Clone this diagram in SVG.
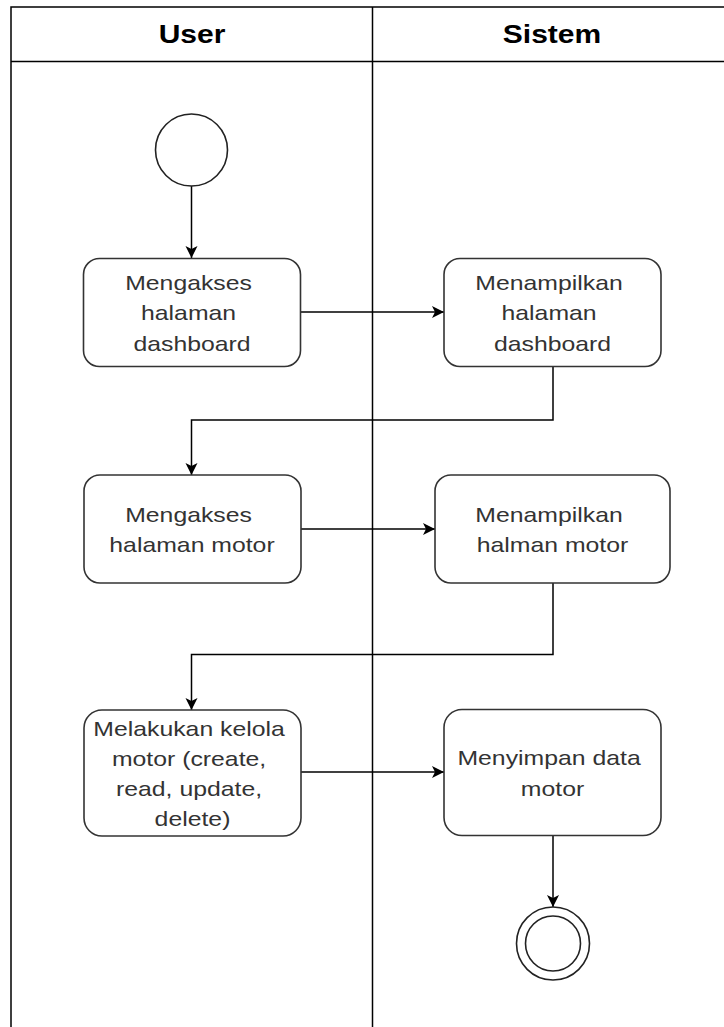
<svg xmlns="http://www.w3.org/2000/svg" width="724" height="1027" viewBox="0 0 724 1027">
  <style>
    .lane { fill: none; stroke: #000; stroke-width: 1.5; }
    .head { font-family: "Liberation Sans", Arial, sans-serif; font-size: 25px; font-weight: bold; fill: #000; text-anchor: middle; }
    .box { fill: #fff; stroke: #333; stroke-width: 1.6; }
    .lbl { font-family: "Liberation Sans", Arial, sans-serif; font-size: 20px; fill: #333; text-anchor: middle; }
    .edge { fill: none; stroke: #000; stroke-width: 1.5; }
    .circ { fill: #fff; stroke: #222; stroke-width: 1.6; }
  </style>
  <defs>
    <marker id="arrow" markerUnits="userSpaceOnUse" markerWidth="13" markerHeight="13" refX="12" refY="6" orient="auto">
      <path d="M0,0 L12,6 L0,12 L3,6 Z" fill="#000"/>
    </marker>
  </defs>

  <rect width="724" height="1027" fill="#fff"/>

  <!-- swimlanes -->
  <g id="lanes">
    <path class="lane" d="M11,1027 V7 H724"/>
    <path class="lane" d="M11,61.5 H724"/>
    <path class="lane" d="M372.5,7 V1027"/>
    <text class="head" transform="translate(192,0) scale(1.2,1)" x="0" y="43">User</text>
    <text class="head" transform="translate(552,0) scale(1.2,1)" x="0" y="43">Sistem</text>
  </g>

  <!-- connectors -->
  <g id="edges">
    <path class="edge" d="M191.5,186 V258" marker-end="url(#arrow)"/>
    <path class="edge" d="M301,312 H444" marker-end="url(#arrow)"/>
    <path class="edge" d="M553,366.5 V420 H191.5 V475" marker-end="url(#arrow)"/>
    <path class="edge" d="M301,529 H435" marker-end="url(#arrow)"/>
    <path class="edge" d="M553,583 V654.5 H191.5 V710" marker-end="url(#arrow)"/>
    <path class="edge" d="M301,772 H444" marker-end="url(#arrow)"/>
    <path class="edge" d="M553,836 V907" marker-end="url(#arrow)"/>
  </g>

  <g id="start">
    <circle class="circ" cx="191.5" cy="150" r="36"/>
  </g>

  <g id="akses-dashboard">
    <rect class="box" x="83.5" y="258.5" width="217" height="108" rx="16"/>
    <text class="lbl" transform="translate(192,0) scale(1.24,1)">
      <tspan x="0" y="290">Mengakses</tspan>
      <tspan x="0" y="320.5">halaman</tspan>
      <tspan x="0" y="351">dashboard</tspan>
    </text>
  </g>

  <g id="tampil-dashboard">
    <rect class="box" x="444" y="258.5" width="217" height="108" rx="16"/>
    <text class="lbl" transform="translate(552.5,0) scale(1.24,1)">
      <tspan x="0" y="290">Menampilkan</tspan>
      <tspan x="0" y="320.5">halaman</tspan>
      <tspan x="0" y="351">dashboard</tspan>
    </text>
  </g>

  <g id="akses-motor">
    <rect class="box" x="84" y="475" width="217" height="108" rx="16"/>
    <text class="lbl" transform="translate(192,0) scale(1.24,1)">
      <tspan x="0" y="522.5">Mengakses</tspan>
      <tspan x="0" y="552.5">halaman motor</tspan>
    </text>
  </g>

  <g id="tampil-motor">
    <rect class="box" x="435" y="475" width="235" height="108" rx="16"/>
    <text class="lbl" transform="translate(552.5,0) scale(1.24,1)">
      <tspan x="0" y="522.5">Menampilkan</tspan>
      <tspan x="0" y="552.5">halman motor</tspan>
    </text>
  </g>

  <g id="kelola-motor">
    <rect class="box" x="84" y="710" width="217" height="126" rx="18"/>
    <text class="lbl" transform="translate(192.5,0) scale(1.24,1)">
      <tspan x="0" y="736">Melakukan kelola</tspan>
      <tspan x="0" y="766">motor (create,</tspan>
      <tspan x="0" y="796">read, update,</tspan>
      <tspan x="0" y="826">delete)</tspan>
    </text>
  </g>

  <g id="simpan-motor">
    <rect class="box" x="444" y="709.5" width="217" height="126" rx="18"/>
    <text class="lbl" transform="translate(552.5,0) scale(1.24,1)">
      <tspan x="0" y="765.5">Menyimpan data</tspan>
      <tspan x="0" y="796">motor</tspan>
    </text>
  </g>

  <g id="end">
    <circle class="circ" cx="553" cy="943.5" r="36.5"/>
    <circle class="circ" cx="553" cy="943.5" r="27.5"/>
  </g>
</svg>
